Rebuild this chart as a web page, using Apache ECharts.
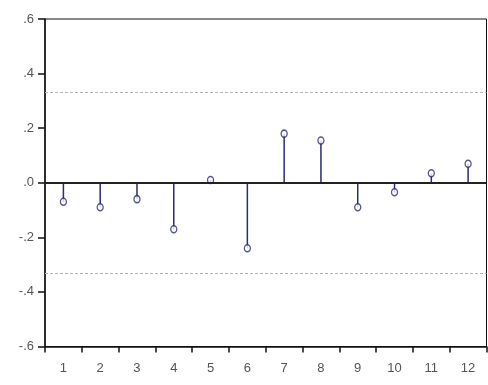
<!DOCTYPE html>
<html>
<head>
<meta charset="utf-8">
<script src="https://cdn.jsdelivr.net/npm/echarts@6/dist/echarts.min.js"></script>
<style>
  html, body { margin: 0; padding: 0; background: #fff; }
  #chart { width: 488px; height: 385px; }
</style>
</head>
<body>
<div id="chart"></div>
<script>
// Lags and autocorrelation values
const lags = ['1', '2', '3', '4', '5', '6', '7', '8', '9', '10', '11', '12'];
const acf = [-0.07, -0.09, -0.06, -0.17, 0.01, -0.24, 0.18, 0.155, -0.09, -0.035, 0.035, 0.07];
// Confidence band (± two standard errors)
const bandUpper = 0.33;
const bandLower = -0.33;
// Value axis range and ticks
const yMin = -0.6, yMax = 0.6, yStep = 0.2;

const stemColor = '#2a2a78';

function fmt(v) {
  const r = Math.round(v * 10) / 10;
  if (r === 0) return '.0';
  const s = Math.abs(r).toFixed(1).replace(/^0/, '');
  return (r < 0 ? '-' : '') + s;
}

const chart = echarts.init(document.getElementById('chart'), null, { renderer: 'canvas' });
chart.setOption({
  animation: false,
  backgroundColor: '#fff',
  grid: {
    left: 45, right: 1.5, top: 19, bottom: 38.5,
    show: true, borderColor: '#111', borderWidth: 1, backgroundColor: '#fff'
  },
  xAxis: {
    type: 'category',
    data: lags,
    boundaryGap: true,
    axisLine: { onZero: false, lineStyle: { color: '#111', width: 1.5 } },
    axisTick: { show: true, alignWithLabel: false, length: 6, inside: false, lineStyle: { color: '#111', width: 1.5 } },
    axisLabel: { color: '#555', fontFamily: 'Arial, Liberation Sans, sans-serif', fontSize: 13, margin: 15 },
    splitLine: { show: false }
  },
  yAxis: {
    type: 'value',
    min: yMin, max: yMax, interval: yStep,
    axisLine: { show: true, lineStyle: { color: '#111', width: 1.5 } },
    axisTick: { show: true, length: 7, lineStyle: { color: '#111', width: 1.5 } },
    axisLabel: { color: '#555', fontFamily: 'Arial, Liberation Sans, sans-serif', fontSize: 13, margin: 11, formatter: fmt },
    splitLine: { show: false }
  },
  series: [
    {
      type: 'bar',
      data: acf,
      barWidth: 1.5,
      itemStyle: { color: stemColor },
      silent: true,
      z: 2,
      markLine: {
        silent: true,
        symbol: ['none', 'none'],
        label: { show: false },
        data: [
          { yAxis: 0, lineStyle: { color: '#222', width: 2, type: 'solid' } },
          { yAxis: bandUpper, lineStyle: { color: '#b4b4b4', width: 1, type: [3, 2] } },
          { yAxis: bandLower, lineStyle: { color: '#b4b4b4', width: 1, type: [3, 2] } }
        ]
      }
    },
    {
      type: 'scatter',
      data: acf,
      symbol: 'circle',
      symbolSize: [6, 7],
      itemStyle: { color: '#fff', borderColor: stemColor, borderWidth: 1.4 },
      z: 4
    }
  ]
});
</script>
</body>
</html>
